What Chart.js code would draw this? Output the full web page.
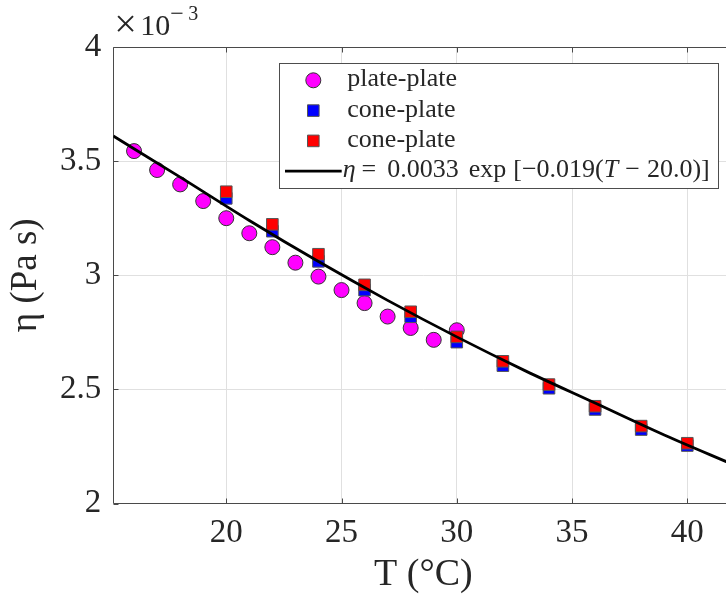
<!DOCTYPE html>
<html>
<head>
<meta charset="utf-8">
<script src="https://cdn.jsdelivr.net/npm/chart.js@4.4.1/dist/chart.umd.min.js"></script>
<style>
html, body { margin: 0; padding: 0; background: #fff; overflow: hidden; }
#wrap { width: 726px; height: 598px; overflow: hidden; }
canvas { display: block; }
</style>
</head>
<body>
<div id="wrap"><canvas id="chart" width="760" height="598" style="width:760px;height:598px"></canvas></div>
<script>
// Viscosity vs temperature (values in units of 1e-3 Pa s)
const tempPlate = [16, 17, 18, 19, 20, 21, 22, 23, 24, 25, 26, 27, 28, 29, 30];
const etaPlate = [3.544, 3.461, 3.398, 3.325, 3.250, 3.184, 3.123, 3.055, 2.994, 2.935, 2.878, 2.819, 2.769, 2.717, 2.759];

const tempCone = [20, 22, 24, 26, 28, 30, 32, 34, 36, 38, 40];
const etaConeBlue = [3.337, 3.193, 3.061, 2.935, 2.818, 2.707, 2.604, 2.505, 2.412, 2.324, 2.254];
const etaConeRed = [3.366, 3.223, 3.092, 2.958, 2.840, 2.730, 2.623, 2.521, 2.426, 2.339, 2.264];

// fitted curve
const tempFit = [15.1, 18, 21, 24, 27, 30, 33, 36, 39, 42];
const etaFit = [3.61, 3.43, 3.24, 3.06, 2.89, 2.73, 2.58, 2.44, 2.30, 2.17];

const xTicks = [20, 25, 30, 35, 40];
const yTicks = [2, 2.5, 3, 3.5, 4];

const SERIF = "'Liberation Serif', 'DejaVu Serif', serif";
const INK = '#262626';
const GRID = '#e0e0e0';

const toPoints = (xs, ys) => xs.map((x, i) => ({ x, y: ys[i] }));

// Axes box with inward ticks (MATLAB style)
const frame = {
    id: 'frame',
    beforeDatasetsDraw(chart) {
        const { ctx, chartArea: a, scales: { x, y } } = chart;
        const L = Math.round(a.left) + 0.5, T = Math.round(a.top) + 0.5;
        const B = Math.round(a.bottom) - 0.5, R = Math.round(a.right) - 0.5;
        ctx.save();
        ctx.strokeStyle = '#4a4a4a';
        ctx.lineWidth = 1;
        ctx.beginPath();
        ctx.rect(L, T, R - L, B - T);
        xTicks.forEach(v => {
            const px = Math.round(x.getPixelForValue(v)) + 0.5;
            ctx.moveTo(px, B); ctx.lineTo(px, B - 5);
            ctx.moveTo(px, T); ctx.lineTo(px, T + 5);
        });
        yTicks.forEach(v => {
            const py = Math.round(y.getPixelForValue(v)) + 0.5;
            ctx.moveTo(L, py); ctx.lineTo(L + 5, py);
            ctx.moveTo(R, py); ctx.lineTo(R - 5, py);
        });
        ctx.stroke();
        ctx.restore();
    },
    afterDraw(chart) {
        // x10^-3 exponent label
        const { ctx, chartArea: a } = chart;
        ctx.save();
        ctx.fillStyle = INK;
        ctx.textBaseline = 'alphabetic';
        ctx.textAlign = 'left';
        ctx.font = `40px ${SERIF}`;
        ctx.fillText('\u00d7', a.left + 1, 37);
        ctx.font = `30px ${SERIF}`;
        ctx.fillText('10', a.left + 27, 35);
        ctx.font = `24px ${SERIF}`;
        ctx.fillText('\u2212', a.left + 57, 21);
        ctx.font = `20px ${SERIF}`;
        ctx.fillText('3', a.left + 75, 20);
        ctx.restore();
    }
};

// Legend drawn by hand so the fit label can mix italic and upright text
const fitLabelParts = [
    ['\u03b7', true, 6], ['=', false, 11], ['0.0033', false, 10], ['exp', false, 7],
    ['[\u22120.019(', false, 0], ['T', true, 7], ['\u2212', false, 7], ['20.0)]', false, 0]
];

const legendBox = {
    id: 'legendBox',
    afterDatasetsDraw(chart) {
        const { ctx } = chart;
        const bx = 279.5, by = 63.5, bw = 439, bh = 125;
        const rows = [86.3, 116.6, 146.9, 177.2];
        const mx = 313.3, tx = 347.3;
        const ds = chart.data.datasets;
        ctx.save();
        ctx.fillStyle = '#ffffff';
        ctx.fillRect(bx, by, bw, bh);
        ctx.strokeStyle = '#4d4d4d';
        ctx.lineWidth = 1;
        ctx.strokeRect(bx, by, bw, bh);

        ctx.textBaseline = 'alphabetic';
        ctx.textAlign = 'left';
        for (let i = 0; i < 3; i++) {
            const d = ds[i];
            const cy = rows[i] - 6;
            ctx.fillStyle = d.backgroundColor;
            ctx.strokeStyle = d.borderColor;
            ctx.lineWidth = 1;
            ctx.beginPath();
            if (d.pointStyle === 'circle') {
                ctx.arc(mx, cy, d.pointRadius, 0, Math.PI * 2);
            } else {
                const h = d.pointRadius * Math.SQRT1_2;
                ctx.rect(mx - h, cy - h, 2 * h, 2 * h);
            }
            ctx.fill();
            ctx.stroke();
            ctx.fillStyle = INK;
            ctx.font = `26px ${SERIF}`;
            ctx.fillText(d.label, tx, rows[i]);
        }

        // fit line entry
        const ly = rows[3] - 6;
        ctx.strokeStyle = '#000';
        ctx.lineWidth = 2.8;
        ctx.beginPath();
        ctx.moveTo(285, ly);
        ctx.lineTo(341.7, ly);
        ctx.stroke();

        let px = 342.7;
        ctx.fillStyle = INK;
        fitLabelParts.forEach(([txt, italic, gap]) => {
            ctx.font = `${italic ? 'italic ' : ''}26px ${SERIF}`;
            ctx.fillText(txt, px, rows[3]);
            px += ctx.measureText(txt).width + gap;
        });
        ctx.restore();
    }
};

new Chart(document.getElementById('chart'), {
    type: 'scatter',
    data: {
        datasets: [
            {
                label: 'plate-plate',
                data: toPoints(tempPlate, etaPlate),
                pointStyle: 'circle', pointRadius: 7.5,
                backgroundColor: '#ff00ff', borderColor: '#333333', borderWidth: 1,
                order: 4
            },
            {
                label: 'cone-plate',
                data: toPoints(tempCone, etaConeBlue),
                pointStyle: 'rect', pointRadius: 8.2,
                backgroundColor: '#0000ff', borderColor: '#555555', borderWidth: 1,
                order: 3
            },
            {
                label: 'cone-plate',
                data: toPoints(tempCone, etaConeRed),
                pointStyle: 'rect', pointRadius: 8.2,
                backgroundColor: '#ff0000', borderColor: '#555555', borderWidth: 1,
                order: 2
            },
            {
                type: 'line',
                label: 'fit',
                data: toPoints(tempFit, etaFit),
                showLine: true, fill: false,
                borderColor: '#000000', borderWidth: 2.8,
                pointRadius: 0, cubicInterpolationMode: 'monotone',
                order: 1
            }
        ]
    },
    options: {
        responsive: false,
        animation: false,
        events: [],
        layout: { padding: { top: 47, right: 26.6, bottom: 0, left: 0 } },
        plugins: { legend: { display: false }, tooltip: { enabled: false } },
        scales: {
            x: {
                type: 'linear', min: 15.1, max: 42,
                afterBuildTicks: s => { s.ticks = xTicks.map(v => ({ value: v })); },
                afterFit: s => { s.height = 94.5; },
                grid: { color: GRID, drawTicks: false },
                border: { display: false },
                ticks: { color: INK, font: { family: SERIF, size: 33 }, padding: 10, maxRotation: 0, callback: v => String(v) },
                title: { display: true, text: 'T (\u00b0C)', color: INK, font: { family: SERIF, size: 38 }, padding: 0 }
            },
            y: {
                type: 'linear', min: 2, max: 4,
                afterBuildTicks: s => { s.ticks = yTicks.map(v => ({ value: v })); },
                afterFit: s => { s.width = 113.3; },
                grid: { color: GRID, drawTicks: false },
                border: { display: false },
                ticks: { color: INK, font: { family: SERIF, size: 33 }, padding: 12, callback: v => String(v) },
                title: { display: true, text: '\u03b7 (Pa s)', color: INK, font: { family: SERIF, size: 37 }, padding: { top: 4, bottom: 0 } }
            }
        }
    },
    plugins: [frame, legendBox]
});
</script>
</body>
</html>
